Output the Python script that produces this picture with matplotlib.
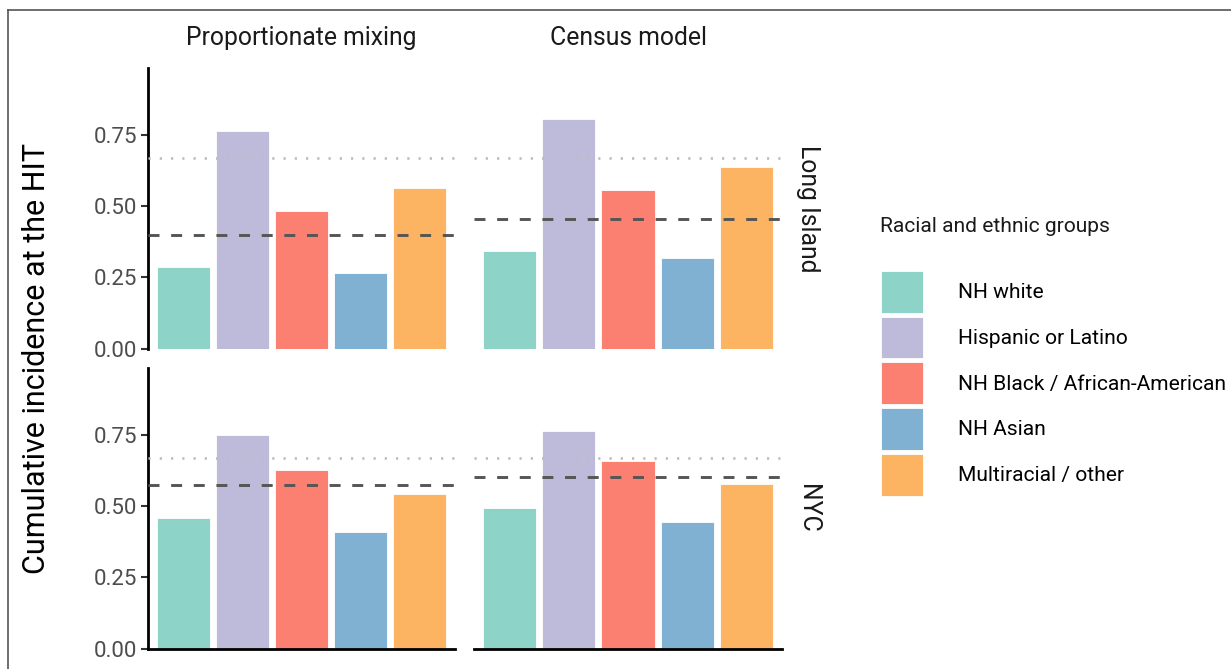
import matplotlib
matplotlib.use("Agg")
import matplotlib.pyplot as plt
from matplotlib.patches import Patch
from matplotlib.lines import Line2D

plt.rcParams['font.family'] = ['Roboto', 'DejaVu Sans']
plt.rcParams['lines.scale_dashes'] = False

groups = ["NH white", "Hispanic or Latino", "NH Black / African-American",
          "NH Asian", "Multiracial / other"]
colors = ["#8DD3C7", "#BEBADA", "#FB8072", "#80B1D3", "#FDB462"]
models = ["Proportionate mixing", "Census model"]
regions = ["Long Island", "NYC"]

# values[region][model]
li_prop = [0.285, 0.761, 0.481, 0.264, 0.563]
li_census = [0.342, 0.803, 0.555, 0.317, 0.636]
nyc_prop = [0.456, 0.747, 0.626, 0.409, 0.542]
nyc_census = [0.493, 0.761, 0.656, 0.445, 0.578]
values = {("Long Island", "Proportionate mixing"): li_prop,
          ("Long Island", "Census model"): li_census,
          ("NYC", "Proportionate mixing"): nyc_prop,
          ("NYC", "Census model"): nyc_census}

# overall cumulative incidence (dashed) and HIT threshold (dotted)
overall = {("Long Island", "Proportionate mixing"): 0.397,
           ("Long Island", "Census model"): 0.453,
           ("NYC", "Proportionate mixing"): 0.574,
           ("NYC", "Census model"): 0.603}
hit_threshold = 2 / 3

yticks = [0.00, 0.25, 0.50, 0.75]
ytick_labels = ["0.00", "0.25", "0.50", "0.75"]

W, H = 1231, 669
fig = plt.figure(figsize=(W / 100, H / 100), dpi=100)

col_x = [(148, 307), (474, 308)]
row_y = [(68, 348.7), (368, 648.7)]

for ri, region in enumerate(regions):
    for ci, model in enumerate(models):
        x0, w = col_x[ci]
        top, bot = row_y[ri]
        ax = fig.add_axes([x0 / W, 1 - bot / H, w / W, (bot - top) / H])
        vals = values[(region, model)]
        xs = list(range(1, len(groups) + 1))
        ax.bar(xs, vals, width=0.9, color=colors, edgecolor="white",
               linewidth=0.6, zorder=2)
        ax.axhline(hit_threshold, color="#BDBDBD", lw=1.9,
                   dashes=(1.6, 6.5), dash_capstyle="butt", zorder=3)
        ax.axhline(overall[(region, model)], color="#555555", lw=2.1,
                   dashes=(7.9, 8.4), zorder=3)
        ax.set_xlim(0.4, 5.6)
        ax.set_ylim(0, 0.983)
        ax.set_xticks([])
        for s in ["top", "right"]:
            ax.spines[s].set_visible(False)
        ax.spines["left"].set_linewidth(2.0)
        ax.spines["bottom"].set_linewidth(2.0)
        if ci == 0:
            ax.set_yticks(yticks)
            ax.set_yticklabels(ytick_labels)
            ax.tick_params(axis="y", length=5, width=1.5, color="#333333",
                           labelsize=16, labelcolor="#4D4D4D", pad=3)
        else:
            ax.spines["left"].set_visible(False)
            ax.set_yticks([])
        if ri == 0:
            ax.spines["bottom"].set_visible(False)
        ax.patch.set_alpha(0)
        if ri == 0:
            ax.text(0.5, 1 + (68 - 38) / (bot - top), model, transform=ax.transAxes,
                    ha="center", va="center", fontsize=17.8, color="#1A1A1A")
        if ci == 1:
            ax.text(1 + (808 - (x0 + w)) / w, 0.5, region, transform=ax.transAxes,
                    ha="center", va="center", rotation=-90, fontsize=17.8,
                    color="#1A1A1A")

fig.text(37 / W, 1 - 358 / H, "Cumulative incidence at the HIT", rotation=90,
         ha="center", va="center", fontsize=22, color="black")

fig.text(880 / W, 1 - 227 / H, "Racial and ethnic groups", ha="left",
         va="center", fontsize=15.1, color="#1A1A1A")

handles = [Patch(facecolor=c, edgecolor="white", linewidth=0.6) for c in colors]
leg = fig.legend(handles, groups, loc="upper left",
                 bbox_to_anchor=(881 / W, 1 - 271 / H),
                 fontsize=15.1, frameon=False, handlelength=1.99,
                 handleheight=2.685, labelspacing=0.19, handletextpad=1.7,
                 borderaxespad=0, borderpad=0)

# frame lines (top and left only, as in the reference)
fig.add_artist(Line2D([8 / W, 1], [1 - 10 / H, 1 - 10 / H], transform=fig.transFigure,
                      color="#555555", lw=1.2))
fig.add_artist(Line2D([8 / W, 8 / W], [0, 1 - 10 / H], transform=fig.transFigure,
                      color="#555555", lw=1.2))

fig.savefig("out.png", dpi=100, facecolor="white")
